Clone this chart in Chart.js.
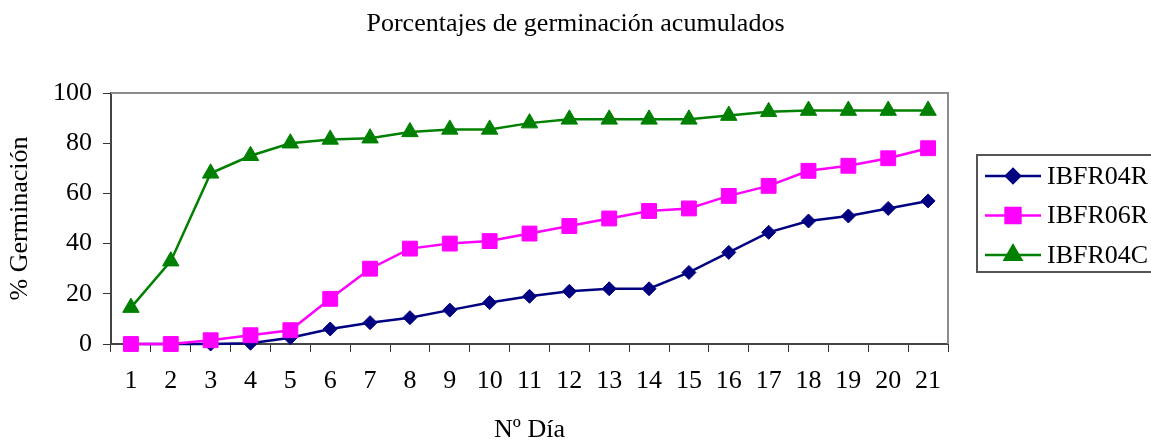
<!DOCTYPE html>
<html>
<head>
<meta charset="utf-8">
<title>Porcentajes de germinación acumulados</title>
<script src="https://cdn.jsdelivr.net/npm/chart.js@4.4.1/dist/chart.umd.min.js"></script>
<style>
  body { margin: 0; background: #fff; }
  #wrap { width: 1151px; height: 441px; }
</style>
</head>
<body>
<div id="wrap"><canvas id="germChart" width="1151" height="441"></canvas></div>
<script>
// datos
const dias = ['1', '2', '3', '4', '5', '6', '7', '8', '9', '10', '11', '12', '13', '14', '15', '16', '17', '18', '19', '20', '21'];
const ibfr04r = [0, 0, 0, 0.3, 2.5, 6, 8.5, 10.5, 13.5, 16.5, 19, 21, 22, 22, 28.5, 36.5, 44.5, 49, 51, 54, 57];
const ibfr06r = [0, 0, 1.5, 3.5, 5.5, 18, 30, 38, 40, 41, 44, 47, 50, 53, 54, 59, 63, 69, 71, 74, 78];
const ibfr04c = [14.5, 33, 68, 75, 80, 81.5, 82, 84.5, 85.5, 85.5, 88, 89.5, 89.5, 89.5, 89.5, 91, 92.5, 93, 93, 93, 93];
const yTicks = [0, 20, 40, 60, 80, 100];

const serif = 'Liberation Serif, Times New Roman, serif';

// marco del área de gráfico + leyenda con recuadro
const framePlugin = {
    id: 'frame',
    beforeDatasetsDraw(chart) {
        const { ctx, chartArea: a } = chart;
        ctx.save();
        ctx.strokeStyle = '#8c8c8c';
        ctx.lineWidth = 2;
        ctx.beginPath();
        ctx.moveTo(a.left, a.top);
        ctx.lineTo(a.right, a.top);
        ctx.lineTo(a.right, a.bottom);
        ctx.stroke();
        ctx.restore();
    },
    afterDraw(chart) {
        const { ctx, chartArea: a } = chart;
        const boxLeft = a.right + 29;
        const boxTop = 155;
        const rowH = 39.5;
        ctx.save();
        ctx.strokeStyle = '#555';
        ctx.lineWidth = 2;
        ctx.strokeRect(boxLeft, boxTop, 200, 117);
        chart.data.datasets.forEach(function (ds, i) {
            const y = boxTop + 21 + i * rowH;
            ctx.strokeStyle = ds.borderColor;
            ctx.lineWidth = 2.5;
            ctx.beginPath();
            ctx.moveTo(boxLeft + 8, y);
            ctx.lineTo(boxLeft + 64, y);
            ctx.stroke();
            ctx.fillStyle = ds.backgroundColor;
            Chart.helpers.drawPoint(ctx, {
                pointStyle: ds.pointStyle,
                radius: ds.pointRadius,
                rotation: 0,
                borderWidth: 1
            }, boxLeft + 36, y);
            ctx.fill();
            ctx.fillStyle = '#000';
            ctx.font = '26px ' + serif;
            ctx.textBaseline = 'middle';
            ctx.textAlign = 'left';
            ctx.fillText(ds.label, boxLeft + 70, y + 1);
        });
        ctx.restore();
    }
};

const ctx = document.getElementById('germChart').getContext('2d');
new Chart(ctx, {
    type: 'line',
    data: {
        labels: dias,
        datasets: [{
            label: 'IBFR04R',
            data: ibfr04r,
            borderColor: '#000080',
            backgroundColor: '#000080',
            pointStyle: 'rectRot',
            pointRadius: 7,
            order: 2
        }, {
            label: 'IBFR06R',
            data: ibfr06r,
            borderColor: '#ff00ff',
            backgroundColor: '#ff00ff',
            pointStyle: 'rect',
            pointRadius: 10.5,
            order: 1
        }, {
            label: 'IBFR04C',
            data: ibfr04c,
            borderColor: '#008000',
            backgroundColor: '#008000',
            pointStyle: 'triangle',
            pointRadius: 9.5,
            order: 0
        }]
    },
    options: {
        responsive: false,
        animation: false,
        layout: { padding: 0 },
        elements: {
            line: { borderWidth: 2.5, tension: 0 },
            point: { borderWidth: 1, hoverRadius: 8 }
        },
        datasets: { line: { clip: false } },
        plugins: {
            legend: { display: false },
            tooltip: { enabled: false },
            title: {
                display: true,
                text: 'Porcentajes de germinación acumulados',
                color: '#000',
                font: { family: serif, size: 26, weight: 'normal', lineHeight: 1.2 },
                padding: { top: 8.4, bottom: 53.4 }
            }
        },
        scales: {
            x: {
                type: 'category',
                offset: true,
                afterFit: function (scale) { scale.height = 97; },
                grid: {
                    offset: true,
                    drawOnChartArea: false,
                    drawTicks: true,
                    tickLength: 8,
                    color: '#333'
                },
                border: { display: true, color: '#444', width: 2 },
                ticks: {
                    color: '#000',
                    padding: 14,
                    maxRotation: 0,
                    autoSkip: false,
                    font: { family: serif, size: 26 }
                },
                title: {
                    display: true,
                    text: 'Nº Día',
                    color: '#000',
                    font: { family: serif, size: 26, lineHeight: 1 },
                    padding: { top: 0, bottom: -2 }
                }
            },
            y: {
                min: 0,
                max: 100,
                afterFit: function (scale) { scale.width = 111; },
                afterBuildTicks: function (scale) {
                    scale.ticks = yTicks.map(function (v) { return { value: v }; });
                },
                grid: {
                    drawOnChartArea: false,
                    drawTicks: true,
                    tickLength: 8,
                    color: '#333'
                },
                border: { display: true, color: '#444', width: 2 },
                ticks: {
                    color: '#000',
                    padding: 11,
                    font: { family: serif, size: 26 }
                },
                title: {
                    display: true,
                    text: '% Germinación',
                    color: '#000',
                    font: { family: serif, size: 26, lineHeight: 1.2 },
                    padding: { top: 4.5, bottom: 0 }
                }
            },
            // espacio reservado a la derecha para la leyenda
            legendSpace: {
                type: 'linear',
                position: 'right',
                afterFit: function (scale) { scale.width = 203; },
                grid: { display: false },
                border: { display: false },
                ticks: { display: false }
            }
        }
    },
    plugins: [framePlugin]
});
</script>
</body>
</html>
